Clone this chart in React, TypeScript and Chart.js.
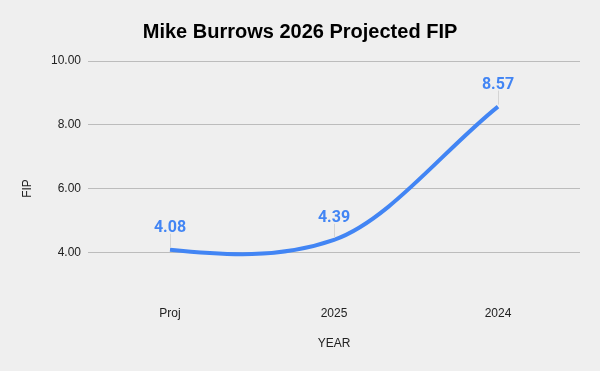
import { useEffect, useRef } from "react";
import { Chart, registerables } from "chart.js";

Chart.register(...registerables);

const categories = ["Proj", "2025", "2024"];
const fipValues = [4.08, 4.39, 8.57];
const yTicks = [4, 6, 8, 10];
const chartTitle = "Mike Burrows 2026 Projected FIP";
const xAxisTitle = "YEAR";
const yAxisTitle = "FIP";

const BG = "#efefef";
const LINE_BLUE = "#4285f4";
const TEXT = "#222222";
// Softens the spline tangents a little so the curve does not overshoot.
const SMOOTHING = 0.8;

// Paints the background and the centred chart title.
const backgroundPlugin = {
  id: "bgFill",
  beforeDraw(chart: Chart) {
    const { ctx, width, height } = chart;
    ctx.save();
    ctx.fillStyle = BG;
    ctx.fillRect(0, 0, width, height);
    ctx.fillStyle = "#000000";
    ctx.font = "bold 20px Arial";
    ctx.textAlign = "center";
    ctx.textBaseline = "alphabetic";
    ctx.fillText(chartTitle, width / 2, 38);
    ctx.restore();
  },
};

// Slopes of a natural cubic spline through the given pixel points.
function naturalSlopes(xs: number[], ys: number[]): number[] {
  const n = xs.length;
  if (n < 2) return xs.map(() => 0);
  const h: number[] = [];
  const d: number[] = [];
  for (let i = 0; i < n - 1; i++) {
    h.push(xs[i + 1] - xs[i]);
    d.push((ys[i + 1] - ys[i]) / h[i]);
  }
  const a = new Array(n).fill(0);
  const b = new Array(n).fill(0);
  const c = new Array(n).fill(0);
  const r = new Array(n).fill(0);
  b[0] = 2; c[0] = 1; r[0] = 3 * d[0];
  for (let i = 1; i < n - 1; i++) {
    a[i] = h[i];
    b[i] = 2 * (h[i - 1] + h[i]);
    c[i] = h[i - 1];
    r[i] = 3 * (h[i] * d[i - 1] + h[i - 1] * d[i]);
  }
  a[n - 1] = 1; b[n - 1] = 2; r[n - 1] = 3 * d[n - 2];
  for (let i = 1; i < n; i++) {
    const w = a[i] / b[i - 1];
    b[i] -= w * c[i - 1];
    r[i] -= w * r[i - 1];
  }
  const m = new Array(n).fill(0);
  m[n - 1] = r[n - 1] / b[n - 1];
  for (let i = n - 2; i >= 0; i--) m[i] = (r[i] - c[i] * m[i + 1]) / b[i];
  return m;
}

// Replaces the line's bezier control points with a smoothed spline shape.
const splinePlugin = {
  id: "smoothSpline",
  beforeDatasetDraw(chart: Chart, args: any) {
    const meta = chart.getDatasetMeta(args.index);
    const line: any = meta.dataset;
    if (!line) return;
    line.updateControlPoints(chart.chartArea, "x");
    const pts: any[] = meta.data as any[];
    const xs = pts.map((p) => p.x);
    const ys = pts.map((p) => p.y);
    const m = naturalSlopes(xs, ys).map((s) => s * SMOOTHING);
    pts.forEach((p, i) => {
      const hPrev = i > 0 ? (xs[i] - xs[i - 1]) / 3 : 0;
      const hNext = i < pts.length - 1 ? (xs[i + 1] - xs[i]) / 3 : 0;
      p.cp1x = p.x - hPrev;
      p.cp1y = p.y - hPrev * m[i];
      p.cp2x = p.x + hNext;
      p.cp2y = p.y + hNext * m[i];
    });
    line._pointsUpdated = true;
  },
};

// Value labels above each point, with a thin leader line.
const valueLabelPlugin = {
  id: "valueLabels",
  afterDatasetsDraw(chart: Chart) {
    const { ctx } = chart;
    const meta = chart.getDatasetMeta(0);
    const data = chart.data.datasets[0].data as number[];
    ctx.save();
    meta.data.forEach((pt: any, i: number) => {
      const x = pt.x;
      const y = pt.y;
      ctx.strokeStyle = "#d4d4d4";
      ctx.lineWidth = 1;
      ctx.beginPath();
      ctx.moveTo(Math.round(x) + 0.5, y - 2);
      ctx.lineTo(Math.round(x) + 0.5, y - 16);
      ctx.stroke();
      ctx.fillStyle = LINE_BLUE;
      ctx.font = "bold 16px Roboto";
      ctx.textAlign = "center";
      ctx.textBaseline = "middle";
      ctx.fillText(data[i].toFixed(2), x, y - 22);
    });
    ctx.restore();
  },
};

export default function App() {
  const canvasRef = useRef<HTMLCanvasElement | null>(null);

  useEffect(() => {
    if (!canvasRef.current) return;
    const chart = new Chart(canvasRef.current, {
      type: "line",
      data: {
        labels: categories,
        datasets: [
          {
            label: yAxisTitle,
            data: fipValues,
            borderColor: LINE_BLUE,
            borderWidth: 4,
            pointRadius: 0,
            pointHoverRadius: 0,
            tension: 0.4,
            fill: false,
          },
        ],
      },
      options: {
        responsive: false,
        animation: false,
        layout: { padding: { left: 0, right: 20, top: 61, bottom: 0 } },
        plugins: {
          legend: { display: false },
          tooltip: { enabled: false },
          title: { display: false },
        },
        scales: {
          x: {
            type: "category",
            offset: true,
            grid: { display: false, drawTicks: false },
            border: { display: false },
            ticks: {
              color: TEXT,
              font: { family: "Arial", size: 12 },
              mirror: true,
              padding: -5,
            },
            title: {
              display: true,
              text: xAxisTitle,
              color: TEXT,
              font: { family: "Arial", size: 12 },
              padding: { top: 0, bottom: 20 },
            },
            afterFit: (s: any) => {
              s.height = 55;
            },
          },
          y: {
            min: 2,
            max: 10,
            afterBuildTicks: (s: any) => {
              s.ticks = yTicks.map((v) => ({ value: v }));
            },
            grid: { color: "#bcbcbc", drawTicks: false },
            border: { display: false },
            ticks: {
              color: TEXT,
              font: { family: "Arial", size: 12 },
              padding: 7,
              callback: (v: any) => Number(v).toFixed(2),
            },
            title: {
              display: true,
              text: yAxisTitle,
              color: TEXT,
              font: { family: "Arial", size: 12 },
              padding: { top: 20, bottom: 0 },
            },
            afterFit: (s: any) => {
              s.width = 88;
            },
          },
        },
      },
      plugins: [backgroundPlugin, splinePlugin, valueLabelPlugin],
    });
    return () => chart.destroy();
  }, []);

  return (
    <div style={{ position: "fixed", left: 0, top: 0, width: 600, height: 371, background: BG }}>
      <canvas ref={canvasRef} width={600} height={371} style={{ display: "block" }} />
    </div>
  );
}
